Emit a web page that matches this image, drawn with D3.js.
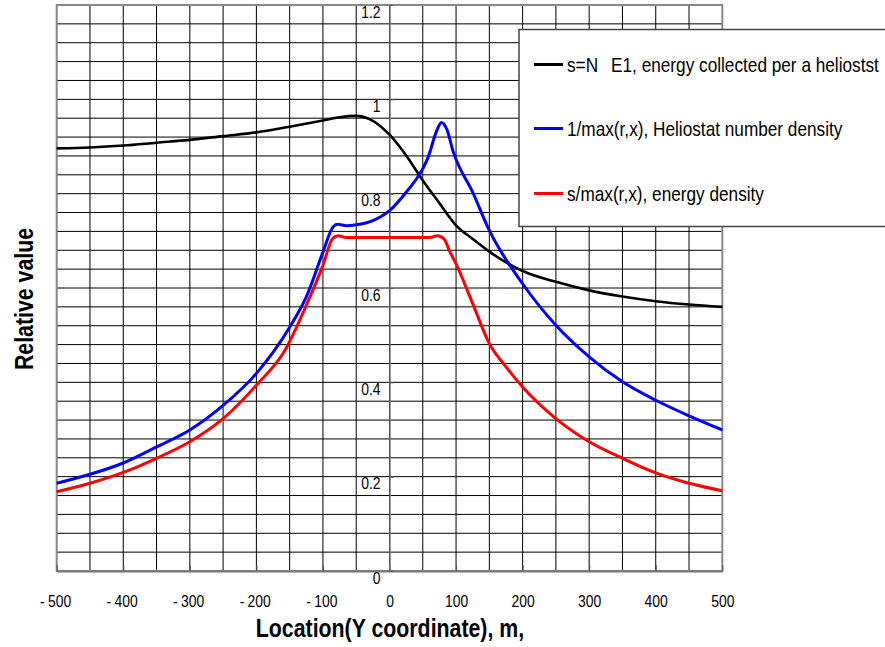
<!DOCTYPE html>
<html>
<head>
<meta charset="utf-8">
<script src="https://cdn.jsdelivr.net/npm/d3@7"></script>
<style>
  body { margin: 0; background: #fff; }
  svg { display: block; font-family: "Liberation Sans", Arial, sans-serif; }
</style>
</head>
<body>
<svg id="chart" width="885" height="647"></svg>
<script>
// ---------- data ----------
const blackX = [-500,-450,-400,-350,-300,-250,-200,-150,-100,-75,-50,-30,0,25,50,75,100,125,150,200,250,300,350,400,450,500];
const blackY = [0.896,0.898,0.902,0.908,0.914,0.922,0.930,0.942,0.955,0.962,0.965,0.958,0.925,0.881,0.828,0.780,0.733,0.704,0.677,0.636,0.613,0.595,0.582,0.572,0.565,0.560];

const blueX = [-500,-450,-400,-350,-300,-250,-200,-150,-125,-100,-85,-78,-65,-50,-25,0,25,50,58,70,78,86,96,125,150,200,250,300,350,400,450,500];
const blueY = [0.186,0.205,0.229,0.263,0.299,0.351,0.419,0.517,0.581,0.676,0.729,0.735,0.732,0.734,0.743,0.764,0.803,0.853,0.877,0.930,0.951,0.937,0.888,0.803,0.722,0.609,0.521,0.454,0.401,0.362,0.329,0.299];

const redX = [-500,-450,-400,-350,-300,-250,-200,-157,-125,-100,-85,-77,-65,0,60,72,82,91,100,125,150,175,200,250,300,350,400,450,500];
const redY = [0.168,0.186,0.209,0.239,0.274,0.323,0.394,0.468,0.563,0.648,0.706,0.711,0.707,0.707,0.707,0.711,0.704,0.676,0.651,0.567,0.482,0.433,0.390,0.323,0.274,0.239,0.208,0.186,0.170];

const seriesNames = [
  "s=N E1, energy collected per a heliostst",
  "1/max(r,x), Heliostat number density",
  "s/max(r,x), energy density"
];
const seriesColors = ["#000000", "#0000ff", "#ff0000"];

const xTickValues = [-500,-400,-300,-200,-100,0,100,200,300,400,500];
const xTickLabels = ["-500","-400","-300","-200","-100","0","100","200","300","400","500"];
const yTickValues = [0,0.2,0.4,0.6,0.8,1,1.2];
const yTickLabels = ["0","0.2","0.4","0.6","0.8","1","1.2"];

const xTitle = "Location(Y coordinate), m,";
const yTitle = "Relative value";

// ---------- drawing ----------
const svg = d3.select("#chart");
const pLeft = 56.7, pRight = 722.3, pTop = 5, pBottom = 571;
const K = 0.82; // horizontal condensing to mimic a narrow sans face

const x = d3.scaleLinear().domain([-500, 500]).range([pLeft, pRight]);
const y = d3.scaleLinear().domain([0, 1.2]).range([pBottom, pTop]);

function narrow(sel) {
  sel.each(function () {
    const t = d3.select(this);
    const x0 = +(t.attr("x") || 0);
    t.attr("x", x0 / K).attr("transform", `scale(${K},1)`);
  });
}

// grid
const grid = svg.append("g");
grid.selectAll("line.v").data(d3.range(-450, 500, 50)).join("line")
  .attr("class", "v")
  .attr("x1", d => x(d)).attr("x2", d => x(d))
  .attr("y1", pTop).attr("y2", pBottom)
  .attr("stroke", "#000").attr("stroke-width", 1);
grid.selectAll("line.h").data(d3.range(1, 30).map(i => i * 0.04)).join("line")
  .attr("class", "h")
  .attr("x1", pLeft).attr("x2", pRight)
  .attr("y1", d => y(d)).attr("y2", d => y(d))
  .attr("stroke", "#000").attr("stroke-width", 1);

// frame
svg.append("rect")
  .attr("x", pLeft).attr("y", pTop)
  .attr("width", pRight - pLeft).attr("height", pBottom - pTop)
  .attr("fill", "none").attr("stroke", "#888").attr("stroke-width", 2);

// x axis
const xAxis = d3.axisBottom(x)
  .tickValues(xTickValues)
  .tickFormat((d, i) => xTickLabels[i])
  .tickSizeInner(-6).tickSizeOuter(0).tickPadding(24);
const gx = svg.append("g").attr("transform", `translate(0,${pBottom})`).call(xAxis);
gx.select(".domain").attr("stroke", "#777").attr("stroke-width", 2);
gx.selectAll(".tick line").attr("stroke", "#555");
gx.selectAll("text")
  .attr("font-size", 17).attr("fill", "#000")
  .attr("font-family", "Liberation Sans, Arial, sans-serif")
  .each(function () {
    const t = d3.select(this);
    const s = t.text();
    if (s.startsWith("-")) {
      t.text(null);
      t.append("tspan").text("-");
      t.append("tspan").attr("dx", 4).text(s.slice(1));
      t.attr("dx", -2);
    }
  })
  .call(narrow);

// y axis at x = 0
const yAxis = d3.axisLeft(y)
  .tickValues(yTickValues)
  .tickFormat((d, i) => yTickLabels[i])
  .tickSizeInner(-4).tickSizeOuter(0).tickPadding(9);
const gy = svg.append("g").attr("transform", `translate(${x(0)},0)`).call(yAxis);
gy.select(".domain").attr("stroke", "#777").attr("stroke-width", 1.5);
gy.selectAll(".tick line").attr("stroke", "#555");
gy.selectAll("text").attr("font-size", 17).attr("fill", "#000").attr("dy", "0.72em")
  .attr("font-family", "Liberation Sans, Arial, sans-serif")
  .call(narrow);

// lines
const line = d3.line().x(d => x(d[0])).y(d => y(d[1])).curve(d3.curveMonotoneX);
const series = [
  { xs: blackX, ys: blackY, w: 2.6 },
  { xs: blueX, ys: blueY, w: 3 },
  { xs: redX, ys: redY, w: 3 }
];
series.forEach((s, i) => {
  svg.append("path")
    .datum(s.xs.map((v, j) => [v, s.ys[j]]))
    .attr("d", line)
    .attr("fill", "none")
    .attr("stroke", seriesColors[i])
    .attr("stroke-width", s.w)
    .attr("stroke-linejoin", "round");
});

// legend
const lg = svg.append("g");
lg.append("rect")
  .attr("x", 519).attr("y", 29.5).attr("width", 400).attr("height", 197)
  .attr("fill", "#fff").attr("stroke", "#444").attr("stroke-width", 1.5);
const legendY = [64.5, 128.5, 193.5];
seriesNames.forEach((name, i) => {
  lg.append("line")
    .attr("x1", 534).attr("x2", 563)
    .attr("y1", legendY[i]).attr("y2", legendY[i])
    .attr("stroke", seriesColors[i]).attr("stroke-width", 3);
  const t = lg.append("text")
    .attr("x", 567).attr("y", legendY[i]).attr("dy", "0.36em")
    .attr("font-size", 21)
    .attr("fill", "#000");
  const gap = name.indexOf(" E1");
  if (gap > 0) {
    t.append("tspan").text(name.slice(0, gap));
    t.append("tspan").attr("dx", 10).text(name.slice(gap));
  } else {
    t.text(name);
  }
  t.call(narrow);
});

// axis titles
svg.append("text")
  .attr("x", 390).attr("y", 637)
  .attr("text-anchor", "middle")
  .attr("font-size", 26).attr("font-weight", "bold")
  .text(xTitle)
  .call(narrow);
svg.append("text")
  .attr("transform", `translate(33,299) rotate(-90) scale(${K},1)`)
  .attr("text-anchor", "middle")
  .attr("font-size", 26).attr("font-weight", "bold")
  .text(yTitle);
</script>
</body>
</html>
